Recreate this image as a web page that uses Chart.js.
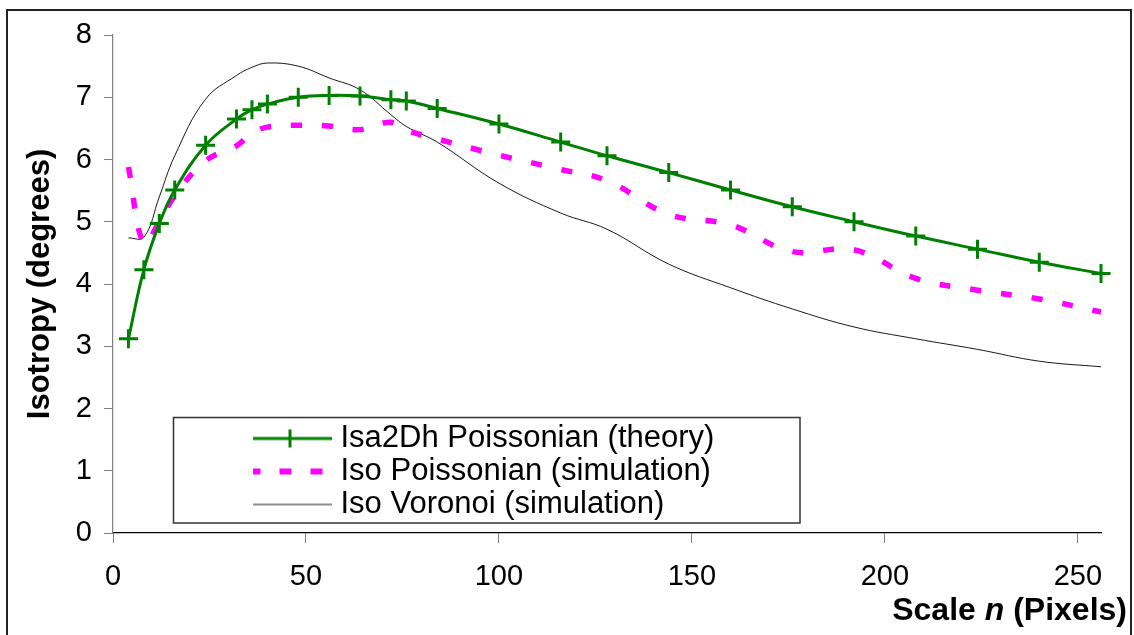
<!DOCTYPE html>
<html>
<head>
<meta charset="utf-8">
<script src="https://cdn.jsdelivr.net/npm/chart.js@4.4.0/dist/chart.umd.min.js"></script>
<style>
  html, body { margin: 0; padding: 0; background: #fff; }
  canvas { display: block; }
</style>
</head>
<body>
<canvas id="chart" width="1134" height="635"></canvas>
<script>
// scale n (pixels) where every curve was sampled
const scales = [4, 8, 12, 16, 24, 32, 36, 40, 48, 56, 64, 72, 76, 84, 100, 116, 128, 144, 160, 176, 192, 208, 224, 240, 256];

// isotropy in degrees
const isa2dhTheory = [3.12, 4.23, 4.97, 5.51, 6.23, 6.65, 6.80, 6.89, 7.00, 7.03, 7.02, 6.96, 6.94, 6.82, 6.57, 6.28, 6.06, 5.79, 5.51, 5.24, 5.00, 4.77, 4.56, 4.35, 4.17];
const isoPoissonSim = [5.88, 4.65, 5.00, 5.42, 5.98, 6.22, 6.42, 6.52, 6.55, 6.54, 6.48, 6.60, 6.47, 6.33, 6.07, 5.84, 5.66, 5.12, 4.95, 4.52, 4.55, 4.09, 3.90, 3.76, 3.55];
const isoVoronoiSim = [4.74, 4.75, 5.40, 6.06, 6.97, 7.35, 7.48, 7.55, 7.50, 7.31, 7.12, 6.72, 6.53, 6.28, 5.62, 5.14, 4.88, 4.32, 3.94, 3.60, 3.31, 3.12, 2.95, 2.76, 2.67];

const seriesLabels = ['Isa2Dh Poissonian (theory)', 'Iso Poissonian (simulation)', 'Iso Voronoi (simulation)'];
const xTickValues = [0, 50, 100, 150, 200, 250];
const yTickValues = [0, 1, 2, 3, 4, 5, 6, 7, 8];
const yTitle = 'Isotropy (degrees)';
const xTitleParts = [['Scale ', 'bold'], ['n', 'italic bold'], [' (Pixels)', 'bold']];

const FONT = "'Liberation Sans', Arial, Helvetica, sans-serif";
Chart.defaults.font.family = FONT;
Chart.defaults.color = '#000';

const GREEN = '#008000';
const MAGENTA = '#ff00ff';
const DARK = '#1a1a1a';

// little line samples for the legend, same look as the series
function sample(h, draw) {
  const c = document.createElement('canvas');
  c.width = 83; c.height = h;
  const g = c.getContext('2d');
  draw(g, h / 2);
  return c;
}
const legendSamples = [
  sample(24, (g, m) => {
    g.strokeStyle = GREEN; g.lineWidth = 3;
    g.beginPath(); g.moveTo(0, m); g.lineTo(83, m); g.stroke();
    g.beginPath(); g.moveTo(41.5, m - 9); g.lineTo(41.5, m + 9); g.stroke();
  }),
  sample(10, (g, m) => {
    g.strokeStyle = MAGENTA; g.lineWidth = 6; g.setLineDash([12, 19]);
    g.beginPath(); g.moveTo(0, m); g.lineTo(83, m); g.stroke();
  }),
  sample(4, (g, m) => {
    g.strokeStyle = DARK; g.lineWidth = 1;
    g.beginPath(); g.moveTo(0, m); g.lineTo(83, m); g.stroke();
  })
];

const toPoints = vals => vals.map((v, i) => ({ x: scales[i], y: v }));

// outer border of the picture
const frame = {
  id: 'frame',
  beforeDraw(chart) {
    const ctx = chart.ctx;
    ctx.save();
    ctx.fillStyle = '#fff';
    ctx.fillRect(0, 0, chart.width, chart.height);
    ctx.strokeStyle = '#222';
    ctx.lineWidth = 2;
    ctx.strokeRect(7, 10, 1124, 700);
    ctx.restore();
  }
};

// move the legend into the lower left of the plot and box it
const legendBox = {
  id: 'legendBox',
  afterLayout(chart) {
    const lg = chart.legend;
    const h = lg.height;
    lg.left = 253; lg.top = 421;
    lg.right = 800; lg.bottom = 421 + h;
  },
  afterDraw(chart) {
    const ctx = chart.ctx;
    ctx.save();
    ctx.strokeStyle = '#333';
    ctx.lineWidth = 1.5;
    ctx.strokeRect(173.5, 417.5, 626.5, 105.5);
    ctx.restore();
  }
};

// x title has an italic n, so it is drawn in pieces
const xTitle = {
  id: 'xTitle',
  afterDraw(chart) {
    const ctx = chart.ctx;
    ctx.save();
    ctx.fillStyle = '#000';
    ctx.textBaseline = 'alphabetic';
    let total = 0;
    for (const [t, s] of xTitleParts) {
      ctx.font = s + ' 32px ' + FONT;
      total += ctx.measureText(t).width;
    }
    let x = 1127 - total;
    for (const [t, s] of xTitleParts) {
      ctx.font = s + ' 32px ' + FONT;
      ctx.fillText(t, x, 620);
      x += ctx.measureText(t).width;
    }
    ctx.restore();
  }
};

new Chart(document.getElementById('chart'), {
  type: 'line',
  data: {
    datasets: [
      {
        label: seriesLabels[0],
        data: toPoints(isa2dhTheory),
        borderColor: GREEN,
        backgroundColor: GREEN,
        borderWidth: 3,
        pointStyle: 'cross',
        pointRadius: 9.5,
        pointBorderWidth: 3,
        pointBorderColor: GREEN,
        tension: 0.4,
        clip: false,
        order: 1
      },
      {
        label: seriesLabels[1],
        data: toPoints(isoPoissonSim),
        borderColor: MAGENTA,
        borderWidth: 5.5,
        borderDash: [11, 20],
        pointRadius: 0,
        tension: 0.4,
        clip: false,
        order: 2
      },
      {
        label: seriesLabels[2],
        data: toPoints(isoVoronoiSim),
        borderColor: DARK,
        borderWidth: 1,
        pointRadius: 0,
        tension: 0.4,
        clip: false,
        order: 3
      }
    ]
  },
  options: {
    responsive: false,
    animation: false,
    layout: { padding: { left: 0, top: 35, right: 33, bottom: 0 } },
    plugins: {
      tooltip: { enabled: false },
      legend: {
        position: 'chartArea',
        align: 'start',
        labels: {
          usePointStyle: true,
          pointStyleWidth: 70,
          padding: 2,
          color: '#000',
          font: { size: 31 },
          generateLabels: chart => chart.data.datasets.map((ds, i) => ({
            text: ds.label,
            pointStyle: legendSamples[i],
            datasetIndex: i,
            lineWidth: 0,
            hidden: false
          }))
        }
      }
    },
    scales: {
      x: {
        type: 'linear',
        min: 0,
        max: 256,
        afterBuildTicks: s => { s.ticks = xTickValues.map(v => ({ value: v })); },
        afterFit: s => { s.height = 102; },
        ticks: { color: '#000', font: { size: 29 }, padding: 17, maxRotation: 0 },
        grid: { drawOnChartArea: false, tickLength: 10, color: '#808080' },
        border: { color: '#000', width: 1.2 }
      },
      y: {
        min: 0,
        max: 8,
        afterBuildTicks: s => { s.ticks = yTickValues.map(v => ({ value: v })); },
        afterFit: s => { s.width = 113; },
        ticks: { color: '#000', font: { size: 29 }, padding: 12 },
        grid: { drawOnChartArea: false, tickLength: 9, color: '#808080' },
        border: { color: '#808080', width: 1.2 },
        title: {
          display: true,
          text: yTitle,
          color: '#000',
          font: { size: 31, weight: 'bold' },
          padding: { top: 22, bottom: 0 }
        }
      }
    }
  },
  plugins: [frame, legendBox, xTitle]
});
</script>
</body>
</html>
